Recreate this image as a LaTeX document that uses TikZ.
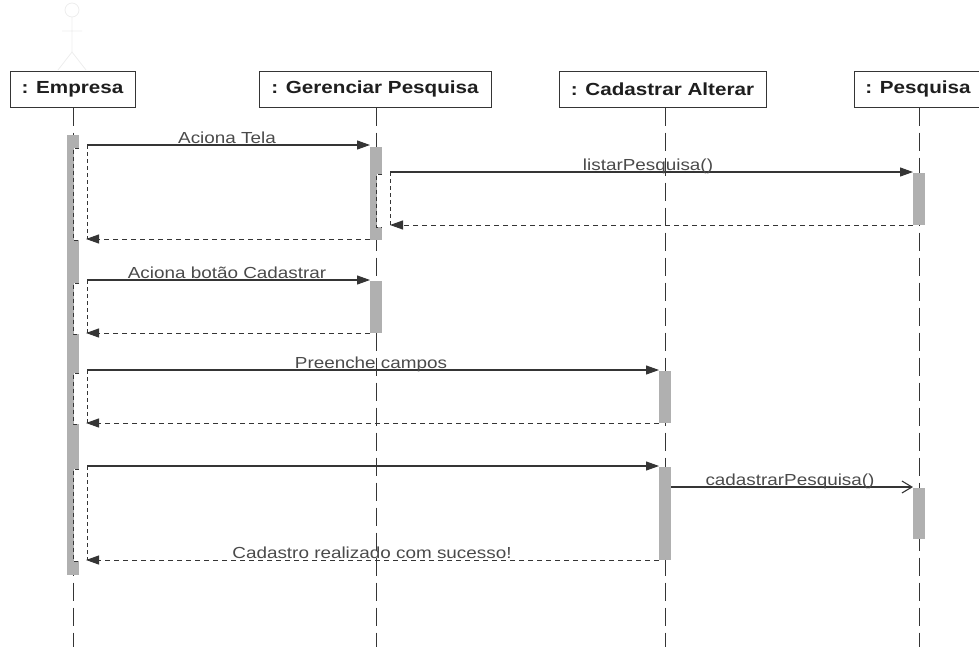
\documentclass[tikz,border=0pt]{standalone}
\usepackage{fontspec}
\setmainfont{Liberation Sans}[FakeStretch=1.18]
\usetikzlibrary{arrows.meta}
\definecolor{ln}{HTML}{353535}
\definecolor{lbltxt}{HTML}{4A4A4A}
\definecolor{barfill}{HTML}{B0B0B0}
\definecolor{hdrtxt}{HTML}{1E1E1E}
\definecolor{faint}{HTML}{EDEDED}
\tikzset{
  hdrbox/.style={draw=ln, fill=white, line width=1pt, minimum height=36, inner sep=0,
    font=\fontsize{17.5}{20}\selectfont\bfseries, text=hdrtxt},
  lifeline/.style={draw=ln, line width=0.9pt, dash pattern=on 18pt off 7pt},
  actbar/.style={fill=barfill, draw=none, minimum width=12, inner sep=0},
  callmsg/.style={draw=ln, line width=1.1pt, -{Triangle[length=13pt,width=9pt]}},
  retmsg/.style={draw=ln, line width=1pt, dash pattern=on 5pt off 4pt, -{Triangle[length=13pt,width=9pt]}},
  asyncmsg/.style={draw=ln, line width=1.1pt, -{Straight Barb[length=10pt,width=12pt]}},
  msglbl/.style={font=\fontsize{16}{18}\selectfont, text=lbltxt, anchor=base, inner sep=0},
  focusline/.style={draw=ln, line width=0.9pt, dash pattern=on 4pt off 3pt},
}
\begin{document}
\begin{tikzpicture}[x=1pt,y=-1pt]
\useasboundingbox (0,0) rectangle (979,646);
% faint actor figure
\draw[faint, line width=0.8pt] (72,10) circle (7);
\draw[faint, line width=0.8pt] (72,17) -- (72,52) (62,31) -- (82,31) (72,52) -- (58,70) (72,52) -- (86,70);
% headers
\node[hdrbox, minimum width=125] (emp) at (72.5,89) {: Empresa};
\node[hdrbox, minimum width=232] (ger) at (375,89) {: Gerenciar Pesquisa};
\node[hdrbox, minimum width=207] (cad) at (662.5,89) {: Cadastrar Alterar};
\node[hdrbox, minimum width=128] (pes) at (918,89) {: Pesquisa};
% lifeline ends
\coordinate (empEnd) at (73,650);
\coordinate (gerEnd) at (376,650);
\coordinate (cadEnd) at (665,650);
\coordinate (pesEnd) at (919,650);
\draw[lifeline] (emp.south -| empEnd) -- (empEnd);
\draw[lifeline] (ger.south -| gerEnd) -- (gerEnd);
\draw[lifeline] (cad.south -| cadEnd) -- (cadEnd);
\draw[lifeline] (pes.south -| pesEnd) -- (pesEnd);
% activation bars
\node[actbar, minimum height=440] (eA) at (73,355) {};
\node[actbar, minimum height=93] (gA1) at (376,193.5) {};
\node[actbar, minimum height=52] (gA2) at (376,307) {};
\node[actbar, minimum height=52] (pA1) at (919,199) {};
\node[actbar, minimum height=52] (cA1) at (665,397) {};
\node[actbar, minimum height=93] (cA2) at (665,513.5) {};
\node[actbar, minimum height=51] (pA2) at (919,513.5) {};
% focus marks on Empresa
\foreach \a/\b/\c/\d in {148/240/145/239, 283/334/280/333, 373/424/370/423, 469/561/466/560} {
  \fill[white] (73.5,\a) rectangle (79,\b);
  \draw[focusline] (79,\a) -- (73.5,\a) -- (73.5,\b) -- (79,\b);
  \draw[focusline] (87,\c) -- (87,\d);
}
% focus mark on Gerenciar
\fill[white] (376.5,174) rectangle (382,227);
\draw[focusline] (382,174) -- (376.5,174) -- (376.5,227) -- (382,227);
\draw[focusline] (390,172) -- (390,225);
% message end points
\coordinate (m1s) at (87,145);   \coordinate (m1e) at (370,145);
\coordinate (m2s) at (390,172);  \coordinate (m2e) at (913,172);
\coordinate (r2s) at (913,225);  \coordinate (r2e) at (390,225);
\coordinate (r1s) at (370,239);  \coordinate (r1e) at (86,239);
\coordinate (m3s) at (87,280);   \coordinate (m3e) at (370,280);
\coordinate (r3s) at (370,333);  \coordinate (r3e) at (86,333);
\coordinate (m4s) at (87,370);   \coordinate (m4e) at (659,370);
\coordinate (r4s) at (659,423);  \coordinate (r4e) at (86,423);
\coordinate (m5s) at (87,466);   \coordinate (m5e) at (659,466);
\coordinate (m6s) at (671,487);  \coordinate (m6e) at (913,487);
\coordinate (r5s) at (659,560);  \coordinate (r5e) at (86,560);
% messages
\draw[callmsg] (m1s) -- (m1e);
\draw[callmsg] (m2s) -- (m2e);
\draw[retmsg] (r2s) -- (r2e);
\draw[retmsg] (r1s) -- (r1e);
\draw[callmsg] (m3s) -- (m3e);
\draw[retmsg] (r3s) -- (r3e);
\draw[callmsg] (m4s) -- (m4e);
\draw[retmsg] (r4s) -- (r4e);
\draw[callmsg] (m5s) -- (m5e);
\draw[asyncmsg] (m6s) -- (m6e);
\draw[retmsg] (r5s) -- (r5e);
% labels
\node[msglbl] (l1) at (227,143) {Aciona Tela};
\node[msglbl] (l2) at (648,170) {listarPesquisa()};
\node[msglbl] (l3) at (227,278) {Aciona botão Cadastrar};
\node[msglbl] (l4) at (371,368) {Preenche campos};
\node[msglbl] (l5) at (790,485) {cadastrarPesquisa()};
\node[msglbl] (l6) at (372,558) {Cadastro realizado com sucesso!};
\end{tikzpicture}
\end{document}
